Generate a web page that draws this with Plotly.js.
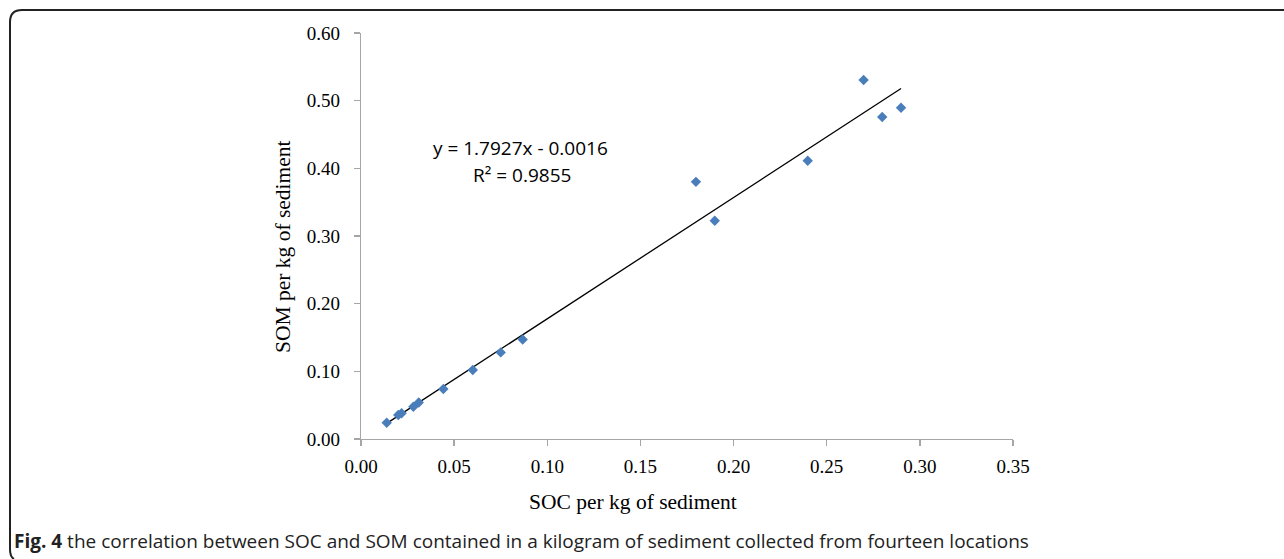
<!DOCTYPE html>
<html>
<head>
<meta charset="utf-8">
<script src="https://cdn.plot.ly/plotly-3.0.1.min.js"></script>
<style>
html,body{margin:0;padding:0;background:#fff;}
#chart{width:1284px;height:559px;}
</style>
</head>
<body>
<div id="chart"></div>
<script>
// Data
var socValues = [0.0138, 0.0200, 0.0218, 0.0281, 0.0310, 0.0442, 0.0600, 0.0750, 0.0868, 0.1798, 0.1899, 0.2398, 0.2698, 0.2798, 0.2899];
var somValues = [0.0241, 0.0355, 0.0380, 0.0477, 0.0540, 0.0739, 0.1020, 0.1280, 0.1470, 0.3800, 0.3226, 0.4113, 0.5305, 0.4758, 0.4896];
var trendSlope = 1.7927;
var trendIntercept = -0.0016;
var rSquared = 0.9855;
var xTickVals = [0, 0.05, 0.10, 0.15, 0.20, 0.25, 0.30, 0.35];
var yTickVals = [0, 0.10, 0.20, 0.30, 0.40, 0.50, 0.60];
var xTitle = 'SOC per kg of sediment';
var yTitle = 'SOM per kg of sediment';
var caption = '<b>Fig. 4</b> the correlation between SOC and SOM contained in a kilogram of sediment collected from fourteen locations';

var W = 1284, H = 559;
var L = 361, R = 1013, T = 33, B = 439;
function px(x){ return (x - L) / (R - L); }
function py(y){ return (B - y) / (B - T); }

var xMin = Math.min.apply(null, socValues);
var xMax = Math.max.apply(null, socValues);
var trendX = [xMin, xMax];
var trendY = trendX.map(function(v){ return trendSlope * v + trendIntercept; });

var pts = {
  type: 'scatter', mode: 'markers',
  x: socValues, y: somValues,
  marker: {symbol: 'diamond', size: 8, color: '#4a7ebb'},
  showlegend: false, hoverinfo: 'x+y'
};
var trend = {
  type: 'scatter', mode: 'lines',
  x: trendX, y: trendY,
  line: {color: '#000', width: 1.3},
  showlegend: false, hoverinfo: 'skip'
};

var r = 12;
var borderPath = 'M ' + px(1284) + ' ' + py(10) +
  ' L ' + px(10 + r) + ' ' + py(10) +
  ' Q ' + px(10) + ' ' + py(10) + ' ' + px(10) + ' ' + py(10 + r) +
  ' L ' + px(10) + ' ' + py(549) +
  ' Q ' + px(10) + ' ' + py(557) + ' ' + px(14) + ' ' + py(559);

var fmt = function(v, d){ return v.toFixed(d); };
var serif = '"Liberation Serif", serif';
var sans = '"Open Sans", sans-serif';

var layout = {
  width: W, height: H,
  margin: {l: L, r: W - R, t: T, b: H - B, pad: 0},
  paper_bgcolor: '#fff', plot_bgcolor: '#fff',
  font: {family: serif, color: '#000'},
  xaxis: {
    range: [0, 0.35], tickvals: xTickVals, ticktext: xTickVals.map(function(v){return fmt(v,2);}),
    showgrid: false, zeroline: false, showline: true, linecolor: '#a6a6a6', linewidth: 1.3,
    ticks: 'outside', ticklen: 6, tickcolor: '#a6a6a6', tickwidth: 1.3,
    tickfont: {family: serif, size: 19, color: '#000'},
    ticklabelstandoff: 4
  },
  yaxis: {
    range: [0, 0.6], tickvals: yTickVals, ticktext: yTickVals.map(function(v){return fmt(v,2);}),
    showgrid: false, zeroline: false, showline: true, linecolor: '#a6a6a6', linewidth: 1.3,
    ticks: 'outside', ticklen: 6, tickcolor: '#a6a6a6', tickwidth: 1.3,
    tickfont: {family: serif, size: 19, color: '#000'},
    ticklabelstandoff: 10
  },
  shapes: [{
    type: 'path', xref: 'paper', yref: 'paper', path: borderPath,
    line: {color: '#222', width: 2}
  }],
  annotations: [
    {xref: 'paper', yref: 'paper', x: px(633), y: py(502), xanchor: 'center', yanchor: 'middle',
     text: xTitle, showarrow: false, font: {family: serif, size: 21.5, color: '#000'}},
    {xref: 'paper', yref: 'paper', x: px(283), y: py(247), xanchor: 'center', yanchor: 'middle',
     text: yTitle, textangle: -90, showarrow: false, font: {family: serif, size: 21.5, color: '#000'}},
    {xref: 'paper', yref: 'paper', x: px(520), y: py(148), xanchor: 'center', yanchor: 'middle',
     text: 'y = ' + trendSlope + 'x - ' + Math.abs(trendIntercept).toFixed(4), showarrow: false,
     font: {family: sans, size: 19, color: '#000'}},
    {xref: 'paper', yref: 'paper', x: px(522), y: py(175), xanchor: 'center', yanchor: 'middle',
     text: 'R² = ' + rSquared, showarrow: false,
     font: {family: sans, size: 19, color: '#000'}},
    {xref: 'paper', yref: 'paper', x: px(12), y: py(541), xanchor: 'left', yanchor: 'middle',
     text: caption, showarrow: false, font: {family: sans, size: 19, color: '#222'}}
  ]
};

Plotly.newPlot('chart', [trend, pts], layout, {displayModeBar: false, staticPlot: true});
</script>
</body>
</html>
